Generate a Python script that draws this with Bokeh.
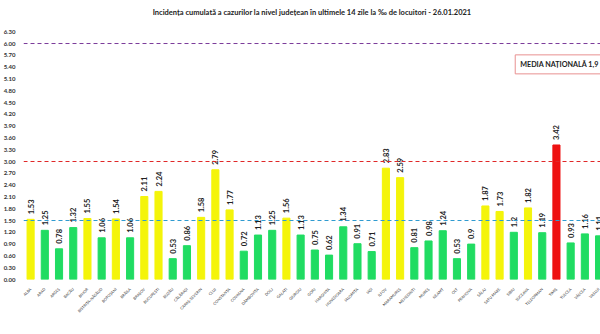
from math import pi
from bokeh.plotting import figure
from bokeh.models import (ColumnDataSource, Range1d, FixedTicker, NumeralTickFormatter,
                          Span, Label)
from bokeh.core.properties import value
from bokeh.embed import file_html
from bokeh.resources import INLINE

counties = ["ALBA", "ARAD", "ARGEȘ", "BACĂU", "BIHOR", "BISTRIȚA-NĂSĂUD", "BOTOȘANI",
            "BRĂILA", "BRAȘOV", "BUCUREȘTI", "BUZĂU", "CĂLĂRAȘI", "CARAȘ-SEVERIN", "CLUJ",
            "CONSTANȚA", "COVASNA", "DÂMBOVIȚA", "DOLJ", "GALAȚI", "GIURGIU", "GORJ",
            "HARGHITA", "HUNEDOARA", "IALOMIȚA", "IAȘI", "ILFOV", "MARAMUREȘ", "MEHEDINȚI",
            "MUREȘ", "NEAMȚ", "OLT", "PRAHOVA", "SĂLAJ", "SATU MARE", "SIBIU", "SUCEAVA",
            "TELEORMAN", "TIMIȘ", "TULCEA", "VÂLCEA", "VASLUI"]
incidence = [1.53, 1.25, 0.78, 1.32, 1.55, 1.06, 1.54, 1.06, 2.11, 2.24, 0.53, 0.86, 1.58,
             2.79, 1.77, 0.72, 1.13, 1.25, 1.56, 1.13, 0.75, 0.62, 1.34, 0.91, 0.71, 2.83,
             2.59, 0.81, 0.98, 1.24, 0.53, 0.9, 1.87, 1.73, 1.2, 1.82, 1.19, 3.42, 0.93,
             1.16, 1.11]
value_labels = ["1.53", "1.25", "0.78", "1.32", "1.55", "1.06", "1.54", "1.06", "2.11", "2.24",
                "0.53", "0.86", "1.58", "2.79", "1.77", "0.72", "1.13", "1.25", "1.56", "1.13",
                "0.75", "0.62", "1.34", "0.91", "0.71", "2.83", "2.59", "0.81", "0.98", "1.24",
                "0.53", "0.9", "1.87", "1.73", "1.2", "1.82", "1.19", "3.42", "0.93", "1.16",
                "1.11"]
thresholds = [1.5, 3.0, 6.0]
y_ticks = [0.0, 0.3, 0.6, 0.9, 1.2, 1.5, 1.8, 2.1, 2.4, 2.7, 3.0, 3.3, 3.6, 3.9, 4.2, 4.5,
           4.8, 5.1, 5.4, 5.7, 6.0, 6.3]
title_text = "Incidența cumulată a cazurilor la nivel județean în ultimele 14 zile la ‰ de locuitori - 26.01.2021"
media_text = "MEDIA NAȚIONALĂ 1,9"

GREEN = "#20DC62"
YELLOW = "#F4F40A"
RED = "#EE1111"

def color_for(v):
    if v > thresholds[1]:
        return RED
    if v > thresholds[0]:
        return YELLOW
    return GREEN

idx = list(range(len(counties)))
src = ColumnDataSource(dict(x=idx, top=incidence, lab=value_labels,
                            color=[color_for(v) for v in incidence]))

FONT = "Lato"
p = figure(width=600, frame_height=258, output_backend="svg", toolbar_location=None,
           x_range=Range1d(-0.5, 40.1), y_range=Range1d(0, 6.56),
           min_border_left=0, min_border_right=0, min_border_top=4, min_border_bottom=0)
p.title.text = title_text
p.title.align = "center"
p.title.text_font = FONT
p.title.text_font_size = "7.5px"
p.title.text_font_style = "bold"
p.title.text_color = "#222222"
p.outline_line_color = None
p.xgrid.grid_line_color = None
p.ygrid.grid_line_color = None

p.vbar(x="x", top="top", width=0.5, color="color", source=src)
p.text(x="x", y="top", text="lab", source=src, angle=pi / 2, y_offset=-5,
       text_align="left", text_baseline="middle", text_font=value(FONT),
       text_font_size="7.5px", text_font_style="bold", text_color="#222222")

p.add_layout(Span(location=thresholds[0], dimension="width", line_color="#2F9BD0",
                  line_dash="4 3", line_width=1))
p.add_layout(Span(location=thresholds[1], dimension="width", line_color="#E02828",
                  line_dash="4 3", line_width=1))
p.add_layout(Span(location=thresholds[2], dimension="width", line_color="#7A3A9A",
                  line_dash="4 3", line_width=1))

p.add_layout(Label(x=34.1, y=5.47, text=media_text, text_font=FONT, text_font_size="7.2px",
                   text_font_style="bold", text_color="#222222", text_baseline="middle",
                   border_line_color="#E89090", border_line_width=1,
                   background_fill_color="white", padding=5))

p.xaxis.ticker = FixedTicker(ticks=idx)
p.xaxis.major_label_overrides = {i: c for i, c in enumerate(counties)}
p.xaxis.major_label_orientation = pi / 4
p.xaxis.major_label_text_font = FONT
p.xaxis.major_label_text_font_size = "3.8px"
p.xaxis.major_label_text_color = "#333333"
p.xaxis.axis_line_color = None
p.xaxis.major_tick_line_color = None
p.xaxis.minor_tick_line_color = None
p.xaxis.major_label_standoff = 3

p.yaxis.ticker = FixedTicker(ticks=y_ticks)
p.yaxis.formatter = NumeralTickFormatter(format="0.00")
p.yaxis.major_label_text_font = FONT
p.yaxis.major_label_text_font_size = "6px"
p.yaxis.major_label_text_font_style = "bold"
p.yaxis.major_label_text_color = "#333333"
p.yaxis.axis_line_color = None
p.yaxis.major_tick_line_color = None
p.yaxis.minor_tick_line_color = None
p.yaxis.major_label_standoff = 2

open("out.html", "w").write(file_html(p, INLINE))
